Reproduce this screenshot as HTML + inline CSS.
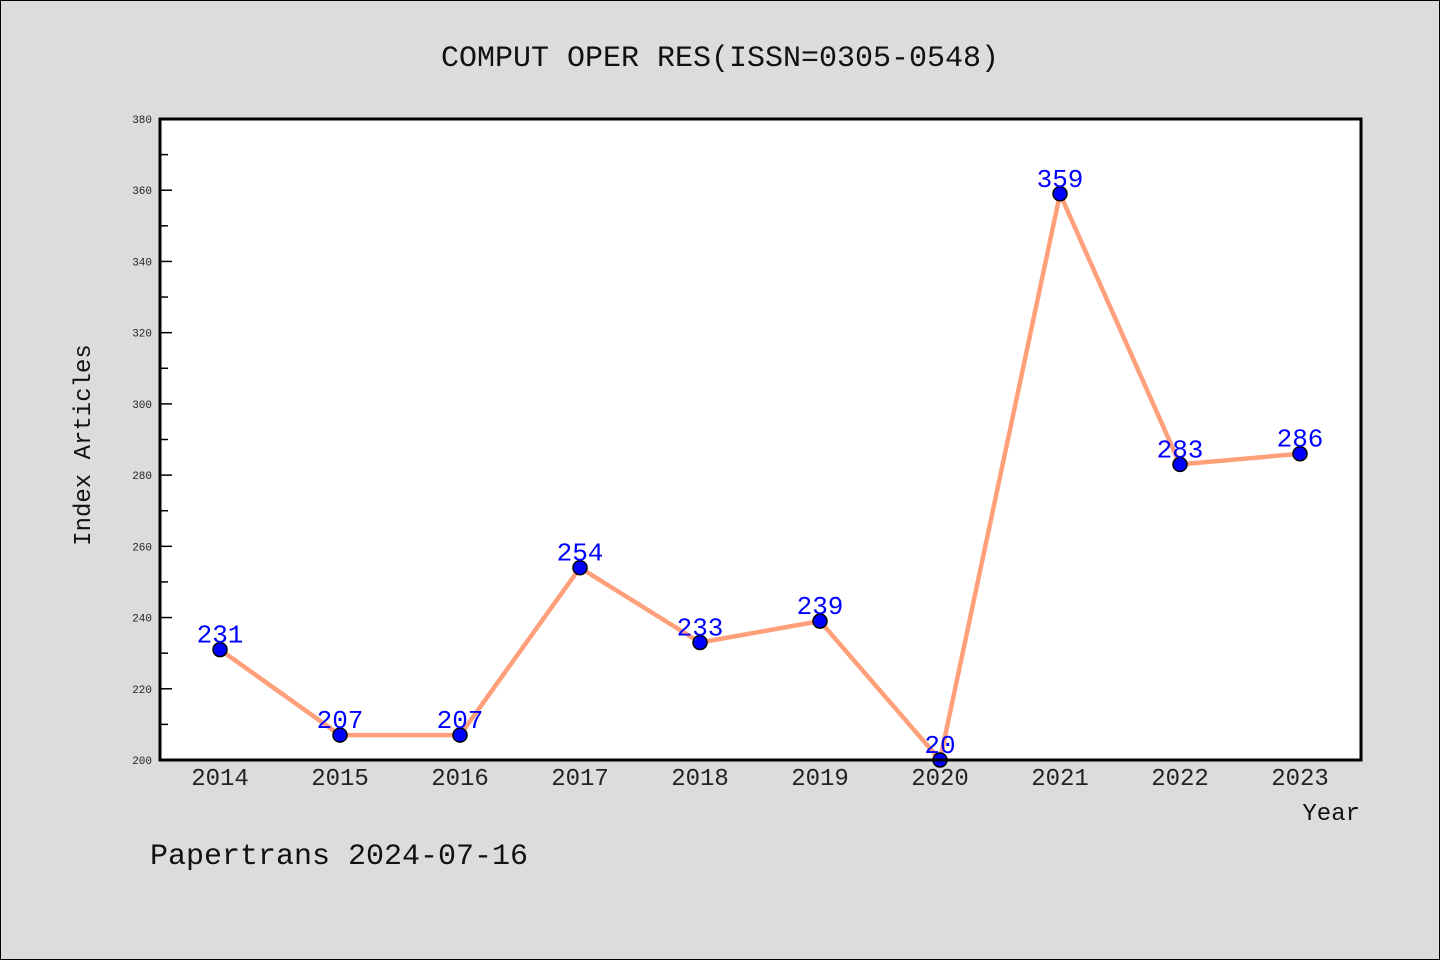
<!DOCTYPE html>
<html><head><meta charset="utf-8"><style>
body{margin:0;background:#dcdcdc;}
svg{display:block;font-family:"Liberation Mono","DejaVu Sans Mono",monospace;}
</style></head><body>
<svg width="1440" height="960">
<rect x="0.5" y="0.5" width="1439" height="959" fill="#dcdcdc" stroke="#000"/>
<text x="720" y="66" font-size="30" text-anchor="middle" fill="#111">COMPUT OPER RES(ISSN=0305-0548)</text>
<rect x="160" y="119" width="1201" height="641" fill="#fff"/>
<g id="yaxis"></g>
<g id="xaxis"></g>
<g id="series"></g>
<rect x="160" y="119" width="1201" height="641" fill="none" stroke="#000" stroke-width="3"/>
<text x="90" y="445" font-size="24" fill="#111" text-anchor="middle" transform="rotate(-90 90 445)">Index Articles</text>
<text x="1360" y="820" font-size="24" fill="#111" text-anchor="end">Year</text>
<text x="150" y="864" font-size="30" fill="#111">Papertrans 2024-07-16</text>
</svg>
<script>
const years = ["2014","2015","2016","2017","2018","2019","2020","2021","2022","2023"];
const values = [231,207,207,254,233,239,200,359,283,286];
const valueLabels = ["231","207","207","254","233","239","20","359","283","286"];
const yTicks = [200,220,240,260,280,300,320,340,360,380];
const NS="http://www.w3.org/2000/svg";
const L=160,R=1361,T=119,B=760,yMin=200,yMax=380;
const xs=i=>220+i*(1300-220)/(years.length-1);
const ys=v=>B-(v-yMin)/(yMax-yMin)*(B-T);
function mk(tag,attrs,parent){const e=document.createElementNS(NS,tag);for(const k in attrs)e.setAttribute(k,attrs[k]);parent.appendChild(e);return e;}
const ya=document.getElementById('yaxis'),xa=document.getElementById('xaxis'),sg=document.getElementById('series');
yTicks.forEach(v=>{
  const t=mk('text',{x:152,y:ys(v)+4,'font-size':11,'text-anchor':'end',fill:'#222'},ya);
  t.textContent=v;
  
  
  const l=mk('line',{x1:L,x2:L+12,y1:ys(v),y2:ys(v),stroke:'#000','stroke-width':1.5},ya);
  
  
  if(v<yMax){const m=mk('line',{x1:L,x2:L+8,y1:ys(v+10),y2:ys(v+10),stroke:'#000','stroke-width':1.5},ya);
  
  }
});
years.forEach((y,i)=>{
  const t=mk('text',{x:xs(i),y:785,'font-size':24,'text-anchor':'middle',fill:'#222'},xa);
  t.textContent=y;
  
  
});
const pl=mk('polyline',{points:values.map((v,i)=>xs(i)+','+ys(v)).join(' '),fill:'none',stroke:'#ffa07a','stroke-width':4.5,'stroke-linejoin':'round'},sg);


values.forEach((v,i)=>{
  const c=mk('circle',{cx:xs(i),cy:ys(v),r:7,fill:'#0000ff',stroke:'#000','stroke-width':1.5},sg);
  
  
});
values.forEach((v,i)=>{
  const t=mk('text',{x:xs(i),y:ys(v)-7,'font-size':26,'text-anchor':'middle',fill:'#0000ff'},sg);
  t.textContent=valueLabels[i];
  
  
});
</script>
</body></html>
